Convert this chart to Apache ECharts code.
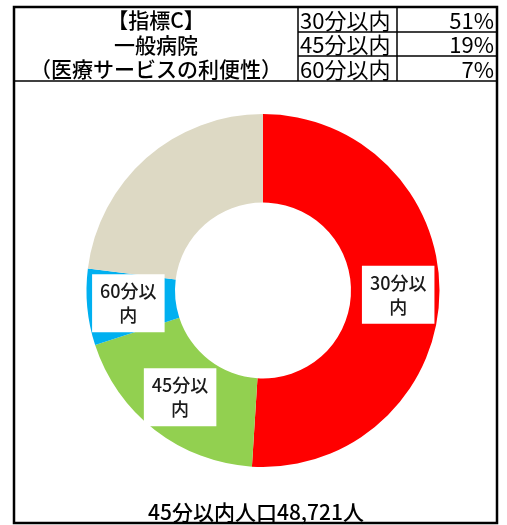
<!DOCTYPE html>
<html>
<head>
<meta charset="utf-8">
<script src="https://cdn.jsdelivr.net/npm/echarts@6/dist/echarts.min.js"></script>
<style>
  html, body { margin: 0; padding: 0; background: #fff; }
  #chart { width: 507px; height: 525px; }
</style>
</head>
<body>
<div id="chart"></div>
<script>
// Travel-time bands to a general hospital and the share of population in each
const categories = ['30分以内', '45分以内', '60分以内', '60分超'];
const shares = [51, 19, 7, 23];
const colors = ['#FF0000', '#92D050', '#00B0F0', '#DDD9C4'];
const labelled = [true, true, true, false];
const titleLines = ['【指標C】', '一般病院', '（医療サービスの利便性）'];
const footer = '45分以内人口48,721人';

const CJK = '"Noto Sans CJK JP", "Noto Sans", sans-serif';
const NARROW = '"Liberation Sans Narrow", "Noto Sans CJK JP", sans-serif';

// header table geometry
const L = 14, R = 497, T = 7, B = 523;
const colA = 298, colB = 397;
const rowY = [T, 32, 56, 81];

const graphics = [];
// outer frame
graphics.push({
  type: 'rect', z: 10,
  shape: { x: L, y: T, width: R - L, height: B - T },
  style: { fill: null, stroke: '#000', lineWidth: 2.5 }
});
// horizontal rules
graphics.push({ type: 'line', z: 10, shape: { x1: colA, y1: rowY[1], x2: R, y2: rowY[1] }, style: { stroke: '#000', lineWidth: 1.5 } });
graphics.push({ type: 'line', z: 10, shape: { x1: colA, y1: rowY[2], x2: R, y2: rowY[2] }, style: { stroke: '#000', lineWidth: 1.5 } });
graphics.push({ type: 'line', z: 10, shape: { x1: L, y1: rowY[3], x2: R, y2: rowY[3] }, style: { stroke: '#000', lineWidth: 1.5 } });
// vertical rules
graphics.push({ type: 'line', z: 10, shape: { x1: colA, y1: T, x2: colA, y2: rowY[3] }, style: { stroke: '#000', lineWidth: 1.5 } });
graphics.push({ type: 'line', z: 10, shape: { x1: colB, y1: T, x2: colB, y2: rowY[3] }, style: { stroke: '#000', lineWidth: 1.5 } });

// title cell
titleLines.forEach((t, i) => {
  graphics.push({
    type: 'text', z: 11,
    style: {
      text: t, x: (L + colA) / 2, y: (rowY[i] + rowY[i + 1]) / 2 + 1,
      fill: '#000', font: '500 21px ' + CJK,
      textAlign: 'center', textVerticalAlign: 'middle'
    }
  });
});
// band / share cells
for (let i = 0; i < 3; i++) {
  const cy = (rowY[i] + rowY[i + 1]) / 2 + 1;
  graphics.push({
    type: 'text', z: 11,
    style: {
      text: categories[i], x: colA + 2, y: cy, fill: '#000',
      font: '22px ' + NARROW, textAlign: 'left', textVerticalAlign: 'middle'
    }
  });
  graphics.push({
    type: 'text', z: 11,
    style: {
      text: shares[i] + '%', x: R - 3, y: cy, fill: '#000',
      font: '22px ' + NARROW, textAlign: 'right', textVerticalAlign: 'middle'
    }
  });
}
// footer
graphics.push({
  type: 'text', z: 11,
  style: {
    text: footer, x: 256, y: 512, fill: '#000',
    font: '500 21px ' + CJK, textAlign: 'center', textVerticalAlign: 'middle'
  }
});

const chart = echarts.init(document.getElementById('chart'), null, { renderer: 'canvas' });
chart.setOption({
  animation: false,
  backgroundColor: '#fff',
  graphic: graphics,
  series: [{
    type: 'pie',
    center: [263, 290.5],
    radius: [88, 176.5],
    startAngle: 90,
    clockwise: true,
    avoidLabelOverlap: false,
    itemStyle: { borderWidth: 0 },
    emphasis: { disabled: true },
    labelLine: { show: false },
    data: categories.map((c, i) => ({
      name: c,
      value: shares[i],
      itemStyle: { color: colors[i] },
      label: { show: labelled[i] }
    })),
    label: {
      position: 'inside',
      formatter: p => p.name.slice(0, -1) + '\n' + p.name.slice(-1),
      backgroundColor: '#fff',
      padding: [5, 8],
      color: '#1a1a1a',
      fontSize: 18,
      fontWeight: 500,
      lineHeight: 24,
      fontFamily: CJK,
      align: 'center'
    }
  }]
});
</script>
</body>
</html>
